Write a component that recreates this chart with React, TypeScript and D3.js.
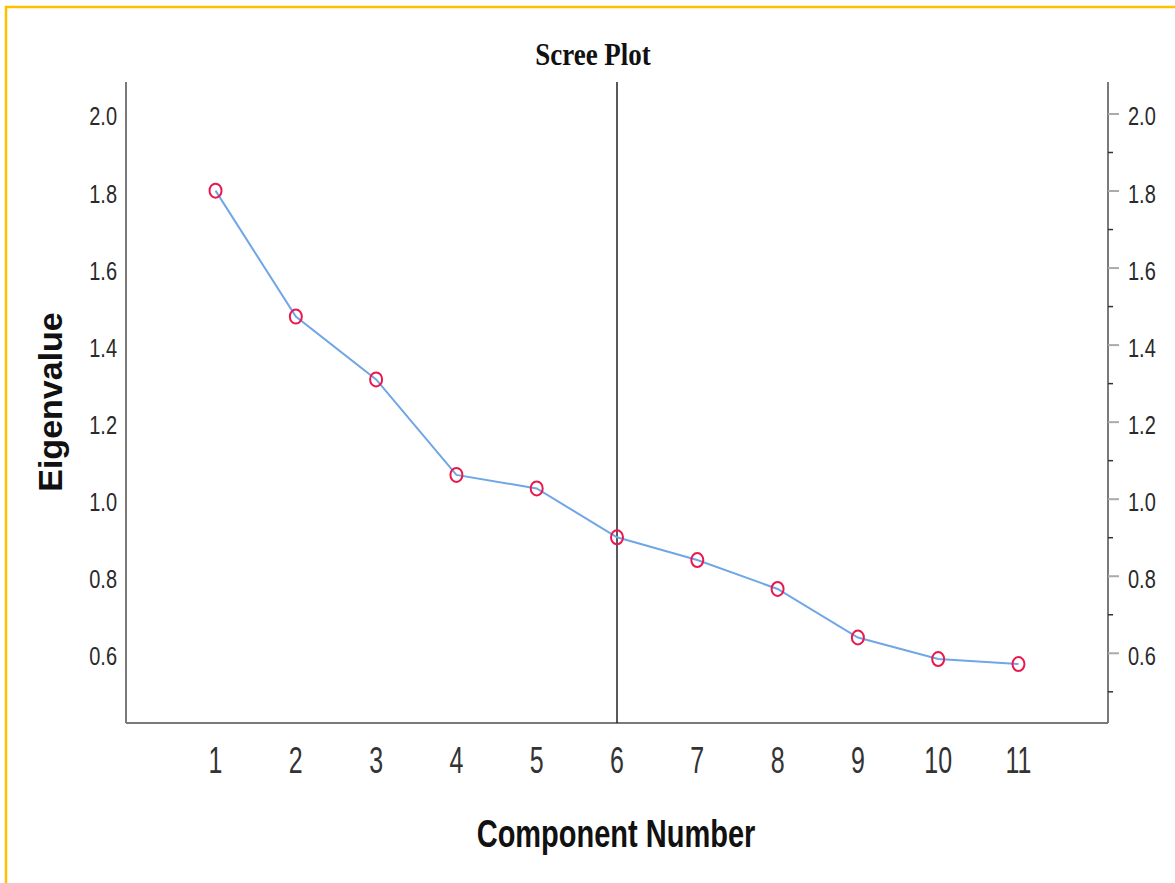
import React from 'react';
import * as d3 from 'd3';

// scree plot data
const components = [1, 2, 3, 4, 5, 6, 7, 8, 9, 10, 11];
const eigenvalues = [1.801, 1.474, 1.311, 1.063, 1.028, 0.901, 0.842, 0.767, 0.641, 0.585, 0.572];
const yMajorTicks = [0.6, 0.8, 1.0, 1.2, 1.4, 1.6, 1.8, 2.0];
const yMinorTicks = [0.5, 0.7, 0.9, 1.1, 1.3, 1.5, 1.7, 1.9];
const cutoffComponent = 6;

const W = 1175;
const H = 883;
const left = 126;
const right = 1108;
const top = 82;
const bottom = 723;

export default function App() {
  const x = d3.scaleLinear().domain([1 - 1.115, 11 + 1.115]).range([left, right]);
  const y = d3.scaleLinear().domain([0.419, 2.083]).range([bottom, top]);

  const line = d3.line<number>()
    .x((d, i) => x(components[i]))
    .y((d) => y(d));

  const axisColor = '#7a7a7a';
  const sans = 'Liberation Sans, Arial, sans-serif';

  return (
    <svg width={W} height={H} style={{ position: 'absolute', left: 0, top: 0, background: '#fff' }}>
      <rect x={0} y={0} width={W} height={H} fill="#fff" />
      {/* yellow frame */}
      <path d={`M6,${H} L6,7 L${W},7`} fill="none" stroke="#FFC000" strokeWidth={2.5} />

      {/* title */}
      <text
        transform={`translate(593,65) scale(1,1.2)`}
        textAnchor="middle"
        fontFamily="Liberation Serif, Times New Roman, serif"
        fontWeight="bold"
        fontSize={27}
        fill="#111"
      >
        Scree Plot
      </text>

      {/* frame axes */}
      <line x1={left} x2={left} y1={top} y2={bottom} stroke={axisColor} strokeWidth={2} />
      <line x1={right} x2={right} y1={top} y2={bottom} stroke={axisColor} strokeWidth={2} />
      <line x1={left} x2={right} y1={bottom} y2={bottom} stroke={axisColor} strokeWidth={2} />

      {/* right axis ticks */}
      {yMajorTicks.map((t) => (
        <line key={'M' + t} x1={right} x2={right + 11} y1={y(t)} y2={y(t)} stroke="#aaa" strokeWidth={2} />
      ))}
      {yMinorTicks.map((t) => (
        <line key={'m' + t} x1={right} x2={right + 5} y1={y(t)} y2={y(t)} stroke="#333" strokeWidth={1.5} />
      ))}

      {/* y tick labels, both sides */}
      {yMajorTicks.map((t) => (
        <g key={'l' + t}>
          <text
            transform={`translate(117,${y(t) + 11.5}) scale(1,1.25)`}
            textAnchor="end"
            fontFamily={sans}
            fontSize={20}
            fill="#2a2a2a"
          >
            {t.toFixed(1)}
          </text>
          <text
            transform={`translate(1128,${y(t) + 11.5}) scale(1,1.25)`}
            textAnchor="start"
            fontFamily={sans}
            fontSize={20}
            fill="#2a2a2a"
          >
            {t.toFixed(1)}
          </text>
        </g>
      ))}

      {/* x tick labels */}
      {components.map((c) => (
        <text
          key={'x' + c}
          transform={`translate(${x(c)},773) scale(1,1.45)`}
          textAnchor="middle"
          fontFamily={sans}
          fontSize={25}
          fill="#333"
        >
          {c}
        </text>
      ))}

      {/* axis titles */}
      <text
        transform={`translate(616,847) scale(1,1.35)`}
        textAnchor="middle"
        fontFamily={sans}
        fontWeight="bold"
        fontSize={29}
        fill="#111"
      >
        Component Number
      </text>
      <text
        transform={`translate(62,402) rotate(-90)`}
        textAnchor="middle"
        fontFamily={sans}
        fontWeight="bold"
        fontSize={34}
        fill="#111"
      >
        Eigenvalue
      </text>

      {/* cutoff reference line */}
      <line
        x1={x(cutoffComponent)}
        x2={x(cutoffComponent)}
        y1={top}
        y2={bottom}
        stroke="#222"
        strokeWidth={1.5}
      />

      {/* scree line */}
      <path d={line(eigenvalues) || ''} fill="none" stroke="#6fa6e6" strokeWidth={2} />
      {eigenvalues.map((v, i) => (
        <ellipse
          key={'p' + i}
          cx={x(components[i])}
          cy={y(v)}
          rx={6}
          ry={7}
          fill="none"
          stroke="#e8194f"
          strokeWidth={2}
        />
      ))}
    </svg>
  );
}
